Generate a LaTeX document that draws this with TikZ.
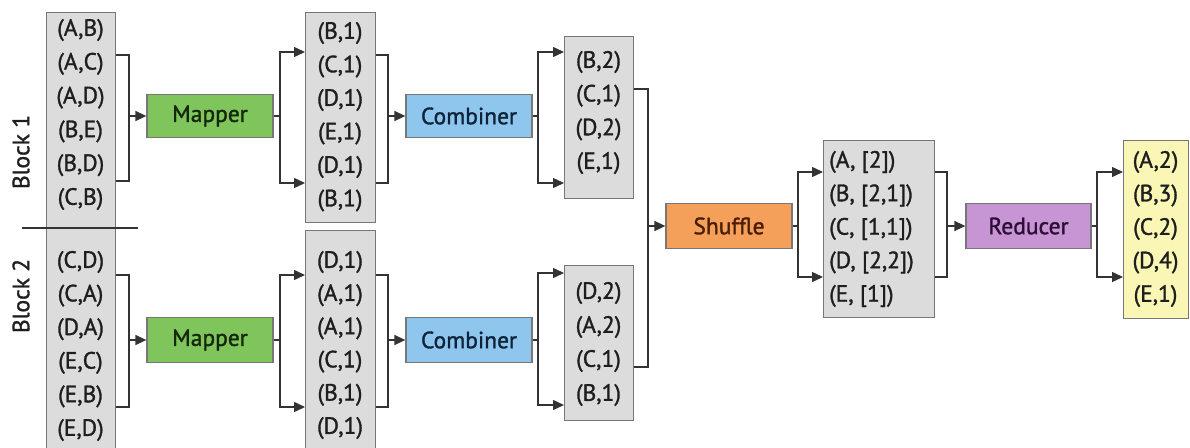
\documentclass[tikz,border=0pt]{standalone}
\usepackage{fontspec}
\setmainfont{PT Sans}
\newfontfamily\medfont[FakeBold=1.3]{PT Sans}
\usetikzlibrary{arrows.meta}
\definecolor{boxgray}{HTML}{DCDCDC}
\definecolor{edgegray}{HTML}{777777}
\definecolor{linec}{HTML}{333333}
\definecolor{txt}{HTML}{1E1E1E}
\definecolor{mapc}{HTML}{80C45C}
\definecolor{combc}{HTML}{8EC6EE}
\definecolor{shufc}{HTML}{F4A05A}
\definecolor{redc}{HTML}{C794D4}
\definecolor{outc}{HTML}{FAF6B6}
\definecolor{maptxt}{HTML}{15280C}
\definecolor{combtxt}{HTML}{0E2238}
\definecolor{shuftxt}{HTML}{4A1C06}
\definecolor{redtxt}{HTML}{2C0E36}
\begin{document}
\begin{tikzpicture}[x=1pt,y=-1pt,
  font=\medfont\fontsize{23.5}{23.5}\selectfont,
  gbox/.style={draw=edgegray, line width=1.3pt, fill=boxgray, inner sep=0pt, anchor=north west},
  proc/.style={draw=edgegray, line width=1.3pt, minimum width=126pt, minimum height=43pt, inner sep=0pt, text=txt},
  row/.style={inner sep=0pt, text=txt},
  lnk/.style={draw=linec, line width=1.4pt},
  arr/.style={lnk, -{Triangle[length=11pt,width=10pt]}}]
\useasboundingbox (0,0) rectangle (1190,447);
% boxes
\node[gbox, minimum width=69pt, minimum height=460pt] (in) at (46,12) {};
\node[gbox, minimum width=70pt, minimum height=210pt] (box2u) at (305,12) {};
\node[gbox, minimum width=70pt, minimum height=230pt] (box2l) at (305,230) {};
\node[gbox, minimum width=69pt, minimum height=162pt] (box3u) at (564,36) {};
\node[gbox, minimum width=69pt, minimum height=155pt] (box3l) at (564,265) {};
\node[gbox, minimum width=111pt, minimum height=177pt] (box4) at (823,140) {};
\node[gbox, fill=outc, minimum width=65pt, minimum height=178pt] (box5) at (1123,140) {};
% divider and block labels
\coordinate (dl) at (22,228);
\coordinate (dr) at (138,228);
\draw[linec, line width=1.4pt] (dl) -- (dr);
\node[row, rotate=90] (blk1) at (21,152) {Block 1};
\node[row, rotate=90] (blk2) at (21,296) {Block 2};
% rows
\foreach \t [count=\i] in {{(A,B)},{(A,C)},{(A,D)},{(B,E)},{(B,D)},{(C,B)}}
  \node[row] (ra\i) at (80.5,{30+33.8*(\i-1)}) {\t};
\foreach \t [count=\i] in {{(C,D)},{(C,A)},{(D,A)},{(E,C)},{(E,B)},{(E,D)}}
  \node[row] (rb\i) at (80.5,{262+33.6*(\i-1)}) {\t};
\foreach \t [count=\i] in {{(B,1)},{(C,1)},{(D,1)},{(E,1)},{(D,1)},{(B,1)}}
  \node[row] (rc\i) at (340,{33+33.5*(\i-1)}) {\t};
\foreach \t [count=\i] in {{(D,1)},{(A,1)},{(A,1)},{(C,1)},{(B,1)},{(D,1)}}
  \node[row] (rd\i) at (340,{262+33.2*(\i-1)}) {\t};
\foreach \t [count=\i] in {{(B,2)},{(C,1)},{(D,2)},{(E,1)}}
  \node[row] (re\i) at (598.5,{62+33.7*(\i-1)}) {\t};
\foreach \t [count=\i] in {{(D,2)},{(A,2)},{(C,1)},{(B,1)}}
  \node[row] (rf\i) at (598.5,{293+34*(\i-1)}) {\t};
\foreach \t [count=\i] in {{(A, [2])},{(B, [2,1])},{(C, [1,1])},{(D, [2,2])},{(E, [1])}}
  \node[row, anchor=west] (rg\i) at (829,{162+33.5*(\i-1)}) {\t};
\foreach \t [count=\i] in {{(A,2)},{(B,3)},{(C,2)},{(D,4)},{(E,1)}}
  \node[row] (rh\i) at (1155.5,{162+33.5*(\i-1)}) {\t};
% process boxes
\node[proc, fill=mapc, text=maptxt] (map1) at (210,116) {Mapper};
\node[proc, fill=mapc, text=maptxt, minimum height=45pt] (map2) at (210,340) {Mapper};
\node[proc, fill=combc, text=combtxt] (comb1) at (469,116) {Combiner};
\node[proc, fill=combc, text=combtxt, minimum height=45pt] (comb2) at (469,340) {Combiner};
\node[proc, fill=shufc, text=shuftxt, minimum height=45pt] (shuf) at (729,226) {Shuffle};
\node[proc, fill=redc, text=redtxt, minimum height=45pt, minimum width=125pt] (red) at (1028.5,226) {Reducer};
% junctions
\coordinate (k1) at (129,116);
\coordinate (k2) at (129,340);
\coordinate (j1) at (280,116);
\coordinate (j2) at (280,340);
\coordinate (k3) at (388,116);
\coordinate (k4) at (388,340);
\coordinate (j3) at (538,116);
\coordinate (j4) at (538,340);
\coordinate (k5) at (648,226);
\coordinate (j5) at (798,226);
\coordinate (k6) at (947,226);
\coordinate (j6) at (1097,226);
% block 1 path
\draw[lnk] (in.east |- 0,55) -| (k1);
\draw[arr] (in.east |- 0,181) -| (k1) -- (map1.west);
\draw[arr] (map1.east) -- (j1) |- (box2u.west |- 0,52);
\draw[arr] (j1) |- (box2u.west |- 0,183);
\draw[lnk] (box2u.east |- 0,55) -| (k3);
\draw[arr] (box2u.east |- 0,183) -| (k3) -- (comb1.west);
\draw[arr] (comb1.east) -- (j3) |- (box3u.west |- 0,52);
\draw[arr] (j3) |- (box3u.west |- 0,183);
% block 2 path
\draw[lnk] (in.east |- 0,275) -| (k2);
\draw[arr] (in.east |- 0,407) -| (k2) -- (map2.west);
\draw[arr] (map2.east) -- (j2) |- (box2l.west |- 0,275);
\draw[arr] (j2) |- (box2l.west |- 0,407);
\draw[lnk] (box2l.east |- 0,275) -| (k4);
\draw[arr] (box2l.east |- 0,407) -| (k4) -- (comb2.west);
\draw[arr] (comb2.east) -- (j4) |- (box3l.west |- 0,273);
\draw[arr] (j4) |- (box3l.west |- 0,405);
% shuffle and reduce
\draw[lnk] (box3u.east |- 0,89) -| (k5);
\draw[arr] (box3l.east |- 0,367) -| (k5) -- (shuf.west);
\draw[arr] (shuf.east) -- (j5) |- (box4.west |- 0,172);
\draw[arr] (j5) |- (box4.west |- 0,277);
\draw[lnk] (box4.east |- 0,172) -| (k6);
\draw[arr] (box4.east |- 0,277) -| (k6) -- (red.west);
\draw[arr] (red.east) -- (j6) |- (box5.west |- 0,172);
\draw[arr] (j6) |- (box5.west |- 0,277);
\end{tikzpicture}
\end{document}
